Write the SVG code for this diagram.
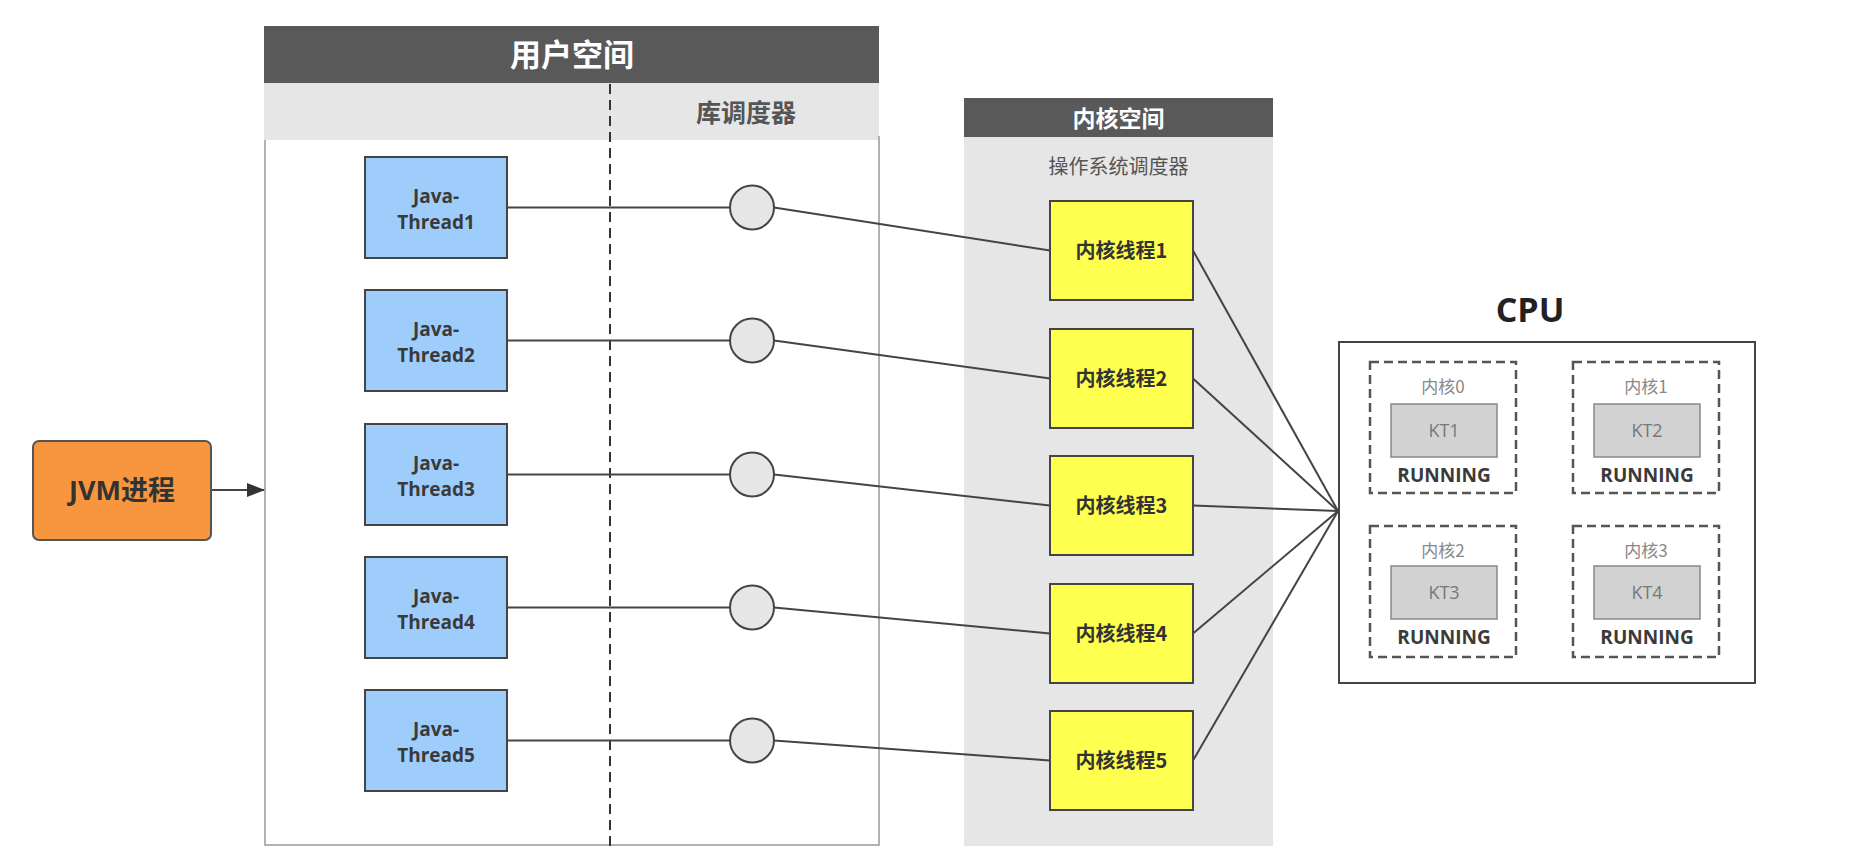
<svg xmlns="http://www.w3.org/2000/svg" width="1868" height="858" viewBox="0 0 1868 858">
<style>
.cjk{font-family:"Noto Sans CJK SC","Open Sans",sans-serif}
.lat{font-family:"Open Sans","Noto Sans CJK SC",sans-serif}
.jt{fill:#9fcdfb;stroke:#444;stroke-width:2}
.kt{fill:#ffff4f;stroke:#444;stroke-width:2}
.circ{fill:#e6e6e6;stroke:#444;stroke-width:2}
.core{fill:none;stroke:#555;stroke-width:2.5;stroke-dasharray:9 5}
.ktb{fill:#d2d2d2;stroke:#888;stroke-width:1.5}
.conn{stroke:#444;stroke-width:2;fill:none}
.jtxt{font-size:19px;font-weight:bold;fill:#3a3a3a;text-anchor:middle}
.ktxt{font-size:20px;font-weight:bold;fill:#333;text-anchor:middle}
.clab{font-size:17px;fill:#888;text-anchor:middle}
.kttxt{font-size:18px;fill:#777;text-anchor:middle}
.run{font-size:19px;font-weight:bold;fill:#3a3a3a;text-anchor:middle}
</style>
<defs>
<marker id="arr" markerWidth="18" markerHeight="14" refX="17" refY="7" orient="auto" markerUnits="userSpaceOnUse">
<path d="M0,0 L18,7 L0,14 Z" fill="#333"/>
</marker>
</defs>
<rect width="1868" height="858" fill="#ffffff"/>

<g id="user-space">
<rect x="264" y="26" width="615" height="57" fill="#595959"/>
<text x="572" y="66" class="cjk" font-size="31" font-weight="bold" fill="#ffffff" text-anchor="middle">用户空间</text>
<rect x="264" y="83" width="615" height="57" fill="#e6e6e6"/>
<text x="746" y="122" class="cjk" font-size="25" font-weight="bold" fill="#555" text-anchor="middle">库调度器</text>
<path d="M265,140 L265,845 L879,845 L879,136" fill="none" stroke="#999" stroke-width="1.5"/>
<line x1="610" y1="84" x2="610" y2="851" stroke="#333" stroke-width="2" stroke-dasharray="10 6"/>
</g>

<g id="kernel-space">
<rect x="964" y="98" width="309" height="39" fill="#595959"/>
<text x="1118.5" y="127" class="cjk" font-size="23" font-weight="bold" fill="#ffffff" text-anchor="middle">内核空间</text>
<rect x="964" y="137" width="309" height="709" fill="#e6e6e6"/>
<text x="1118.5" y="174" class="cjk" font-size="20" fill="#555" text-anchor="middle">操作系统调度器</text>
</g>

<g id="connectors">
<line x1="211" y1="490" x2="264" y2="490" class="conn" marker-end="url(#arr)"/>
<line x1="507" y1="207.5" x2="730" y2="207.5" class="conn"/>
<line x1="507" y1="340.5" x2="730" y2="340.5" class="conn"/>
<line x1="507" y1="474.5" x2="730" y2="474.5" class="conn"/>
<line x1="507" y1="607.5" x2="730" y2="607.5" class="conn"/>
<line x1="507" y1="740.5" x2="730" y2="740.5" class="conn"/>
<line x1="774" y1="207.5" x2="1050" y2="250.5" class="conn"/>
<line x1="774" y1="340.5" x2="1050" y2="378.5" class="conn"/>
<line x1="774" y1="474.5" x2="1050" y2="505.5" class="conn"/>
<line x1="774" y1="607.5" x2="1050" y2="633.5" class="conn"/>
<line x1="774" y1="740.5" x2="1050" y2="760.5" class="conn"/>
<line x1="1193" y1="250.5" x2="1338" y2="511" class="conn"/>
<line x1="1193" y1="378.5" x2="1338" y2="511" class="conn"/>
<line x1="1193" y1="505.5" x2="1338" y2="511" class="conn"/>
<line x1="1193" y1="633.5" x2="1338" y2="511" class="conn"/>
<line x1="1193" y1="760.5" x2="1338" y2="511" class="conn"/>
</g>

<g id="jvm">
<rect x="33" y="441" width="178" height="99" rx="6" fill="#f7963f" stroke="#555" stroke-width="2"/>
<text x="122" y="500" class="lat" font-size="27" font-weight="bold" fill="#333" text-anchor="middle">JVM<tspan class="cjk">进程</tspan></text>
</g>

<g id="java-thread1"><rect x="365" y="157" width="142" height="101" class="jt"/><text x="436" y="203" class="lat jtxt">Java-</text><text x="436" y="229" class="lat jtxt">Thread1</text></g>
<g id="java-thread2"><rect x="365" y="290" width="142" height="101" class="jt"/><text x="436" y="336" class="lat jtxt">Java-</text><text x="436" y="362" class="lat jtxt">Thread2</text></g>
<g id="java-thread3"><rect x="365" y="424" width="142" height="101" class="jt"/><text x="436" y="470" class="lat jtxt">Java-</text><text x="436" y="496" class="lat jtxt">Thread3</text></g>
<g id="java-thread4"><rect x="365" y="557" width="142" height="101" class="jt"/><text x="436" y="603" class="lat jtxt">Java-</text><text x="436" y="629" class="lat jtxt">Thread4</text></g>
<g id="java-thread5"><rect x="365" y="690" width="142" height="101" class="jt"/><text x="436" y="736" class="lat jtxt">Java-</text><text x="436" y="762" class="lat jtxt">Thread5</text></g>

<g id="sched1"><circle cx="752" cy="207.5" r="22" class="circ"/></g>
<g id="sched2"><circle cx="752" cy="340.5" r="22" class="circ"/></g>
<g id="sched3"><circle cx="752" cy="474.5" r="22" class="circ"/></g>
<g id="sched4"><circle cx="752" cy="607.5" r="22" class="circ"/></g>
<g id="sched5"><circle cx="752" cy="740.5" r="22" class="circ"/></g>

<g id="kthread1"><rect x="1050" y="201" width="143" height="99" class="kt"/><text x="1121.5" y="257.5" class="cjk ktxt">内核线程1</text></g>
<g id="kthread2"><rect x="1050" y="329" width="143" height="99" class="kt"/><text x="1121.5" y="385.5" class="cjk ktxt">内核线程2</text></g>
<g id="kthread3"><rect x="1050" y="456" width="143" height="99" class="kt"/><text x="1121.5" y="512.5" class="cjk ktxt">内核线程3</text></g>
<g id="kthread4"><rect x="1050" y="584" width="143" height="99" class="kt"/><text x="1121.5" y="640.5" class="cjk ktxt">内核线程4</text></g>
<g id="kthread5"><rect x="1050" y="711" width="143" height="99" class="kt"/><text x="1121.5" y="767.5" class="cjk ktxt">内核线程5</text></g>

<g id="cpu">
<text x="1530" y="322" class="lat" font-size="34" font-weight="bold" fill="#222" text-anchor="middle">CPU</text>
<rect x="1339" y="342" width="416" height="341" fill="#ffffff" stroke="#444" stroke-width="2"/>
</g>

<g id="core0">
<rect x="1370" y="362" width="146" height="131" class="core"/>
<text x="1443" y="393" class="cjk clab">内核0</text>
<rect x="1391" y="404" width="106" height="53" class="ktb"/>
<text x="1444" y="437" class="lat kttxt">KT1</text>
<text x="1444" y="482" class="lat run">RUNNING</text>
</g>
<g id="core1">
<rect x="1573" y="362" width="146" height="131" class="core"/>
<text x="1646" y="393" class="cjk clab">内核1</text>
<rect x="1594" y="404" width="106" height="53" class="ktb"/>
<text x="1647" y="437" class="lat kttxt">KT2</text>
<text x="1647" y="482" class="lat run">RUNNING</text>
</g>
<g id="core2">
<rect x="1370" y="526" width="146" height="131" class="core"/>
<text x="1443" y="557" class="cjk clab">内核2</text>
<rect x="1391" y="566" width="106" height="53" class="ktb"/>
<text x="1444" y="599" class="lat kttxt">KT3</text>
<text x="1444" y="644" class="lat run">RUNNING</text>
</g>
<g id="core3">
<rect x="1573" y="526" width="146" height="131" class="core"/>
<text x="1646" y="557" class="cjk clab">内核3</text>
<rect x="1594" y="566" width="106" height="53" class="ktb"/>
<text x="1647" y="599" class="lat kttxt">KT4</text>
<text x="1647" y="644" class="lat run">RUNNING</text>
</g>
</svg>
